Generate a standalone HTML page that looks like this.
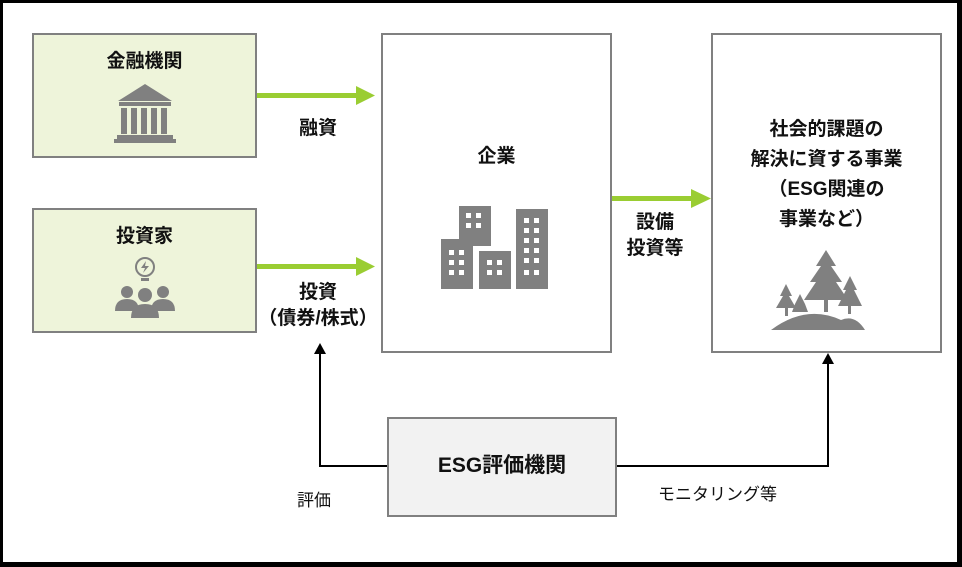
<!DOCTYPE html>
<html><head><meta charset="utf-8"><style>
body{margin:0;width:962px;height:567px;overflow:hidden;background:#fff;font-family:"Liberation Sans","Noto Sans CJK JP",sans-serif;}
.frame{position:absolute;left:0;top:0;width:962px;height:567px;box-sizing:border-box;border-style:solid;border-color:#000;border-width:3px 5px 5px 3px;}
.b{position:absolute;box-sizing:border-box;border:2px solid #808080;}
.t{position:absolute;font-weight:bold;font-size:19px;color:#111;text-align:center;white-space:nowrap;line-height:26px;}
.n{position:absolute;font-size:17px;color:#111;white-space:nowrap;}
</style></head><body>
<div class="frame"></div>
<div class="b" style="left:32px;top:33px;width:225px;height:125px;background:#eef4da"></div>
<div class="b" style="left:32px;top:208px;width:225px;height:125px;background:#eef4da"></div>
<div class="b" style="left:381px;top:33px;width:231px;height:320px;background:#fff"></div>
<div class="b" style="left:711px;top:33px;width:231px;height:320px;background:#fff"></div>
<div class="b" style="left:387px;top:417px;width:230px;height:100px;background:#f2f2f2"></div>
<svg width="962" height="567" style="position:absolute;left:0;top:0">
<g fill="#9acd32" stroke="none">
<rect x="257" y="93" width="100" height="5"/><polygon points="356,86 375,95.5 356,105"/>
<rect x="257" y="264" width="100" height="5"/><polygon points="356,257 375,266.5 356,276"/>
<rect x="612" y="196" width="80" height="5"/><polygon points="691,189 711,198.5 691,208"/>
</g>
<g stroke="#000" stroke-width="2" fill="none">
<polyline points="387,466 320,466 320,354"/>
<polyline points="617,466 828,466 828,362"/>
</g>
<polygon points="314,354 326,354 320,343" fill="#000"/>
<polygon points="822,364 834,364 828,353" fill="#000"/>
<g fill="#808080">
<polygon points="145,84 118,101 172,101"/>
<rect x="119" y="102" width="52" height="4"/>
<rect x="121" y="108" width="6" height="26"/><rect x="131" y="108" width="6" height="26"/><rect x="141" y="108" width="6" height="26"/><rect x="151" y="108" width="6" height="26"/><rect x="161" y="108" width="6" height="26"/>
<rect x="117" y="135" width="56" height="4"/><rect x="114" y="139" width="62" height="4"/>
<circle cx="127" cy="292" r="6"/><circle cx="145" cy="295" r="7"/><circle cx="163" cy="292" r="6"/>
<path d="M115,311 q0,-12 12,-12 q12,0 12,12z"/><path d="M151,311 q0,-12 12,-12 q12,0 12,12z"/>
<path d="M131,318 q0,-14 14,-14 q14,0 14,14z"/>
<rect x="441" y="239" width="32" height="50"/><rect x="459" y="206" width="32" height="40"/>
<rect x="479" y="251" width="32" height="38"/><rect x="516" y="209" width="32" height="80"/>
<!-- trees -->
<polygon points="826,250 816,266 821,266 810,282 816,282 804,300 848,300 836,282 842,282 831,266 836,266"/>
<rect x="824" y="298" width="4" height="14"/>
<polygon points="786,284 780,296 783,296 776,308 796,308 789,296 792,296"/><rect x="785" y="306" width="3" height="10"/>
<polygon points="850,276 843,290 846,290 838,306 862,306 854,290 857,290"/><rect x="848" y="304" width="3" height="10"/>
<polygon points="800,294 795,304 792,312 808,312 805,304"/>
<path d="M771,330 q35,-26 70,-10 q14,-6 24,10z"/>
</g>
<g fill="#fff">
<rect x="466" y="213" width="5" height="5"/><rect x="476" y="213" width="5" height="5"/><rect x="466" y="223" width="5" height="5"/><rect x="476" y="223" width="5" height="5"/>
<rect x="449" y="250" width="5" height="5"/><rect x="459" y="250" width="5" height="5"/><rect x="449" y="260" width="5" height="5"/><rect x="459" y="260" width="5" height="5"/><rect x="449" y="270" width="5" height="5"/><rect x="459" y="270" width="5" height="5"/>
<rect x="487" y="260" width="5" height="5"/><rect x="497" y="260" width="5" height="5"/><rect x="487" y="270" width="5" height="5"/><rect x="497" y="270" width="5" height="5"/>
<rect x="524" y="218" width="5" height="5"/><rect x="534" y="218" width="5" height="5"/><rect x="524" y="228" width="5" height="5"/><rect x="534" y="228" width="5" height="5"/><rect x="524" y="238" width="5" height="5"/><rect x="534" y="238" width="5" height="5"/><rect x="524" y="248" width="5" height="5"/><rect x="534" y="248" width="5" height="5"/><rect x="524" y="258" width="5" height="5"/><rect x="534" y="258" width="5" height="5"/><rect x="524" y="270" width="5" height="5"/><rect x="534" y="270" width="5" height="5"/>
</g>
<circle cx="145" cy="267" r="9" fill="none" stroke="#808080" stroke-width="2"/>
<rect x="141" y="278" width="8" height="3" fill="#808080"/>
<polygon points="146,261 141,268 145,268 143,273 149,266 145,266" fill="#808080"/>
</svg>
<div class="t" style="left:32px;top:49px;width:225px">金融機関</div>
<div class="t" style="left:32px;top:224px;width:225px">投資家</div>
<div class="t" style="left:381px;top:144px;width:231px">企業</div>
<div class="t" style="left:711px;top:115px;width:231px;line-height:30px">社会的課題の<br>解決に資する事業<br>（ESG関連の<br>事業など）</div>
<div class="t" style="left:387px;top:453px;width:230px;font-size:21px">ESG評価機関</div>
<div class="t" style="left:268px;top:116px;width:100px">融資</div>
<div class="t" style="left:250px;top:280px;width:136px">投資<br>（債券/株式）</div>
<div class="t" style="left:612px;top:210px;width:86px">設備<br>投資等</div>
<div class="n" style="left:297px;top:486px">評価</div>
<div class="n" style="left:658px;top:480px">モニタリング等</div>
</body></html>
